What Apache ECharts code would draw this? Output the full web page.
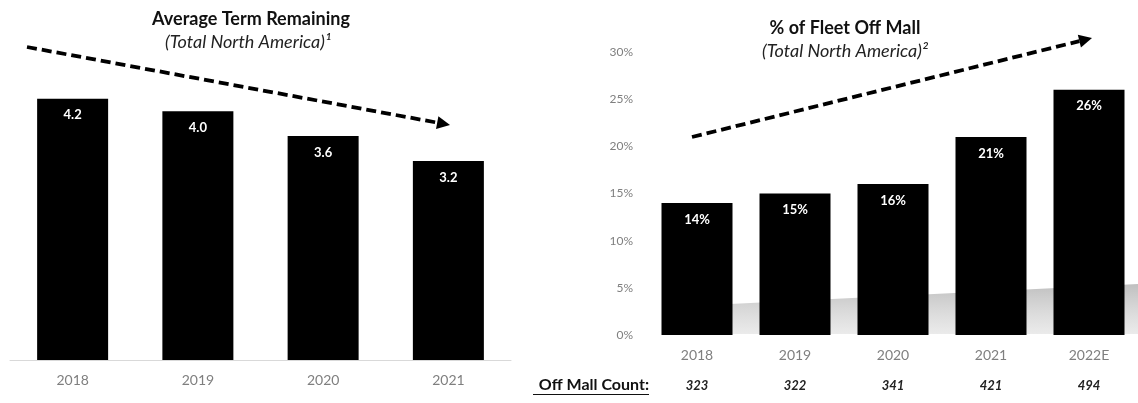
<!DOCTYPE html>
<html>
<head>
<meta charset="utf-8">
<script src="https://cdn.jsdelivr.net/npm/echarts@6/dist/echarts.min.js"></script>
<style>
  html, body { margin: 0; padding: 0; background: #fff; }
  #chart { width: 1138px; height: 403px; }
</style>
</head>
<body>
<div id="chart"></div>
<script>
// Average remaining lease term, in years
const termYears = ['2018', '2019', '2020', '2021'];
const termValues = [4.2, 4.0, 3.6, 3.2];

// Share of the fleet located off mall, in percent
const fleetYears = ['2018', '2019', '2020', '2021', '2022E'];
const fleetPct = [14, 15, 16, 21, 26];
const offMallCounts = ['323', '322', '341', '421', '494'];

const FONT = 'Lato, "Open Sans", sans-serif';
const GREY = '#7f7f7f';

const chart = echarts.init(document.getElementById('chart'), null, { renderer: 'canvas' });

// Dashed trend arrow with a filled head
function trendArrow(x1, y1, x2, y2) {
  const dx = x2 - x1, dy = y2 - y1;
  const len = Math.sqrt(dx * dx + dy * dy);
  const ux = dx / len, uy = dy / len;
  const head = 13, half = 6.5;
  const bx = x2 - ux * head, by = y2 - uy * head;
  return [
    {
      type: 'line', z: 10,
      shape: { x1: x1, y1: y1, x2: bx, y2: by },
      style: { stroke: '#000', lineWidth: 3.8, lineDash: [10, 5] }
    },
    {
      type: 'polygon', z: 10,
      shape: { points: [[x2, y2], [bx - uy * half, by + ux * half], [bx + uy * half, by - ux * half]] },
      style: { fill: '#000' }
    }
  ];
}

function centeredText(x, y, text, size, weight, style, color) {
  return {
    type: 'text', z: 10, x: x, y: y,
    style: {
      text: text, fill: color || '#000',
      font: (style || 'normal') + ' ' + weight + ' ' + size + 'px ' + FONT,
      textAlign: 'center', textVerticalAlign: 'middle'
    }
  };
}

const graphics = [
  centeredText(251, 19, 'Average Term Remaining', 18, 'bold', 'normal', '#111'),
  centeredText(248, 42, '(Total North America)\u00B9', 18, 'normal', 'italic', '#222'),
  centeredText(845, 28, '% of Fleet Off Mall', 18, 'bold', 'normal', '#111'),
  centeredText(845, 51, '(Total North America)\u00B2', 18, 'normal', 'italic', '#222'),
  // soft floor shading behind the right-hand bars
  {
    type: 'polygon', z: 0,
    shape: { points: [[702, 334], [730, 304], [1138, 284], [1138, 334]] },
    style: {
      fill: new echarts.graphic.LinearGradient(0, 0, 0, 1, [
        { offset: 0, color: 'rgba(170,170,170,0.75)' },
        { offset: 1, color: 'rgba(215,215,215,0.5)' }
      ])
    }
  },
  {
    type: 'text', z: 10, x: 649, y: 385,
    style: {
      text: 'Off Mall Count:', fill: '#111',
      font: 'bold 16px ' + FONT, textAlign: 'right', textVerticalAlign: 'middle'
    }
  },
  {
    type: 'line', z: 10,
    shape: { x1: 533, y1: 394.5, x2: 649, y2: 394.5 },
    style: { stroke: '#111', lineWidth: 1.2 }
  }
].concat(trendArrow(27, 47, 450, 125), trendArrow(692, 137, 1092, 38));

const option = {
  animation: false,
  backgroundColor: '#fff',
  textStyle: { fontFamily: FONT },
  grid: [
    { left: 10, width: 501, top: 49, bottom: 43 },
    { left: 648, width: 496, top: 52, bottom: 68 }
  ],
  xAxis: [
    {
      type: 'category', gridIndex: 0, data: termYears,
      axisLine: { show: true, lineStyle: { color: '#d9d9d9', width: 1 } },
      axisTick: { show: false },
      axisLabel: { color: GREY, fontSize: 14, margin: 13, fontFamily: FONT }
    },
    {
      type: 'category', gridIndex: 1, data: fleetYears,
      axisLine: { show: false }, axisTick: { show: false },
      axisLabel: { color: GREY, fontSize: 14, margin: 13, fontFamily: FONT }
    },
    {
      type: 'category', gridIndex: 1, data: offMallCounts, position: 'bottom', offset: 30,
      axisLine: { show: false }, axisTick: { show: false },
      axisLabel: { color: '#222', fontSize: 13, fontStyle: 'italic', fontWeight: 'bold', margin: 14, fontFamily: FONT }
    }
  ],
  yAxis: [
    {
      type: 'value', gridIndex: 0, min: 0, max: 5, show: false
    },
    {
      type: 'value', gridIndex: 1, min: 0, max: 30, interval: 5,
      axisLine: { show: false }, axisTick: { show: false },
      splitLine: { show: false },
      axisLabel: { color: GREY, fontSize: 12, margin: 15, formatter: '{value}%', fontFamily: FONT }
    }
  ],
  series: [
    {
      type: 'bar', xAxisIndex: 0, yAxisIndex: 0, data: termValues,
      barWidth: 71, z: 2,
      itemStyle: { color: '#000' },
      label: {
        show: true, position: 'insideTop', distance: 10,
        color: '#fff', fontWeight: 'bold', fontSize: 13, fontFamily: FONT,
        formatter: p => p.value.toFixed(1)
      }
    },
    {
      type: 'bar', xAxisIndex: 1, yAxisIndex: 1, data: fleetPct,
      barWidth: 71, z: 2,
      itemStyle: { color: '#000' },
      label: {
        show: true, position: 'insideTop', distance: 10,
        color: '#fff', fontWeight: 'bold', fontSize: 13, fontFamily: FONT,
        formatter: p => p.value + '%'
      }
    }
  ],
  graphic: graphics
};

chart.setOption(option);
</script>
</body>
</html>
